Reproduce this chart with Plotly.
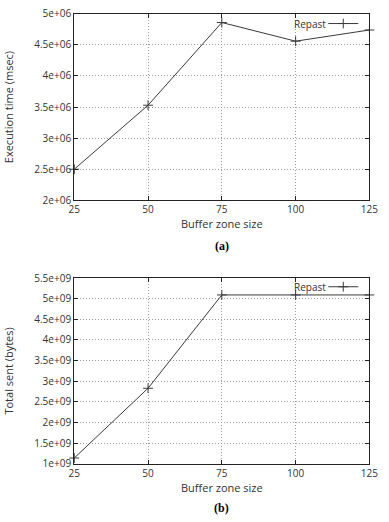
import plotly.graph_objects as go

buffer_sizes = [25, 50, 75, 100, 125]
exec_time_msec = [2.50e6, 3.53e6, 4.86e6, 4.56e6, 4.74e6]
total_sent_bytes = [1.14e9, 2.83e9, 5.09e9, 5.09e9, 5.09e9]
series_name = "Repast"

x_ticks = [25, 50, 75, 100, 125]
y1_tickvals = [2e6, 2.5e6, 3e6, 3.5e6, 4e6, 4.5e6, 5e6]
y1_ticktext = ["2e+06", "2.5e+06", "3e+06", "3.5e+06", "4e+06", "4.5e+06", "5e+06"]
y2_tickvals = [1e9, 1.5e9, 2e9, 2.5e9, 3e9, 3.5e9, 4e9, 4.5e9, 5e9, 5.5e9]
y2_ticktext = ["1e+09", "1.5e+09", "2e+09", "2.5e+09", "3e+09", "3.5e+09",
               "4e+09", "4.5e+09", "5e+09", "5.5e+09"]

FONT = "Open Sans, DejaVu Sans, sans-serif"
LINE = "#3a3a3a"
TXT = "#333333"

fig = go.Figure()
mk = dict(symbol="cross-thin", size=7, line=dict(width=1, color=LINE), color=LINE)
fig.add_trace(go.Scatter(x=buffer_sizes, y=exec_time_msec, mode="lines+markers",
                         name=" ", line=dict(color=LINE, width=1), marker=mk,
                         xaxis="x", yaxis="y", legend="legend", showlegend=True,
                         cliponaxis=False))
fig.add_trace(go.Scatter(x=buffer_sizes, y=total_sent_bytes, mode="lines+markers",
                         name=" ", line=dict(color=LINE, width=1), marker=mk,
                         xaxis="x2", yaxis="y2", legend="legend2", showlegend=True,
                         cliponaxis=False))

xl, xr = 71 / 389, 378 / 389
ax_common = dict(showline=True, linecolor="#222222", linewidth=1.3, mirror="allticks",
                 ticks="inside", ticklen=4, tickcolor="#222222",
                 showgrid=True, gridcolor="#999999", griddash="1px,2px", gridwidth=1,
                 zeroline=False, tickfont=dict(family=FONT, size=10, color=TXT))

leg_common = dict(xanchor="left", yanchor="middle", bgcolor="rgba(0,0,0,0)",
                  itemwidth=30, tracegroupgap=0, font=dict(size=10))

fig.update_layout(
    width=389, height=522, margin=dict(l=0, r=0, t=0, b=0),
    paper_bgcolor="white", plot_bgcolor="white", showlegend=True,
    font=dict(family=FONT, size=10, color=TXT),
    xaxis=dict(domain=[xl, xr], range=[25, 125], tickvals=x_ticks, anchor="y",
               title=dict(text="Buffer zone size", font=dict(size=11, color=TXT), standoff=3),
               **ax_common),
    yaxis=dict(domain=[1 - 198 / 522, 1 - 6 / 522], range=[2e6, 5e6],
               tickvals=y1_tickvals, ticktext=y1_ticktext, anchor="x",
               title=dict(text="Execution time (msec)", font=dict(size=11, color=TXT), standoff=18),
               **ax_common),
    xaxis2=dict(domain=[xl, xr], range=[25, 125], tickvals=x_ticks, anchor="y2",
                title=dict(text="Buffer zone size", font=dict(size=11, color=TXT), standoff=3),
                **ax_common),
    yaxis2=dict(domain=[1 - 469.3 / 522, 1 - 278 / 522], range=[1e9, 5.5e9],
                tickvals=y2_tickvals, ticktext=y2_ticktext, anchor="x2",
                title=dict(text="Total sent (bytes)", font=dict(size=11, color=TXT), standoff=18),
                **ax_common),
    legend=dict(x=330 / 389, y=1 - 16 / 522, **leg_common),
    legend2=dict(x=330 / 389, y=1 - 287 / 522, **leg_common),
    annotations=[
        dict(text=series_name, x=335 / 389, y=1 - 16 / 522, xref="paper", yref="paper",
             xanchor="right", yanchor="middle", showarrow=False,
             font=dict(family=FONT, size=10, color=TXT)),
        dict(text=series_name, x=335 / 389, y=1 - 287 / 522, xref="paper", yref="paper",
             xanchor="right", yanchor="middle", showarrow=False,
             font=dict(family=FONT, size=10, color=TXT)),
        dict(text="<b>(a)</b>", x=(xl + xr) / 2, y=1 - 245 / 522, xref="paper", yref="paper",
             yanchor="middle", showarrow=False,
             font=dict(family="Liberation Serif, serif", size=12, color="black")),
        dict(text="<b>(b)</b>", x=(xl + xr) / 2, y=1 - 515 / 522, xref="paper", yref="paper",
             yanchor="middle", showarrow=False,
             font=dict(family="Liberation Serif, serif", size=12, color="black")),
    ],
)

fig.write_html("out.html")
